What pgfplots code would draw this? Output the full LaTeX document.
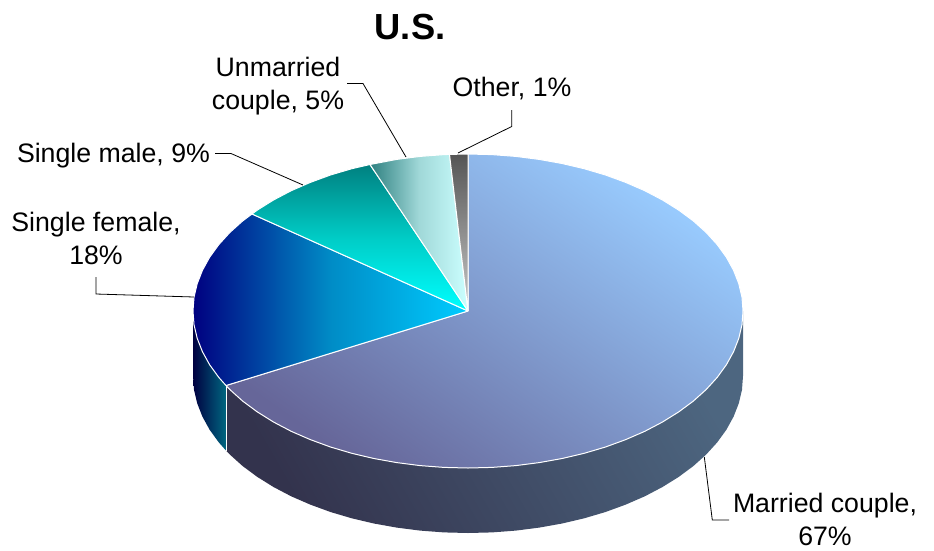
\documentclass[border=0pt]{standalone}
\usepackage{pgfplots}
\pgfplotsset{compat=1.18}
\usepackage{fontspec}
\setmainfont{Liberation Sans}
\definecolor{mTop}{HTML}{99CCFF}
\definecolor{mBot}{HTML}{666699}
\definecolor{mSideL}{HTML}{33334D}
\definecolor{mSideR}{HTML}{4D6680}
\definecolor{fL}{HTML}{000080}
\definecolor{fM}{HTML}{008CC6}
\definecolor{fR}{HTML}{00CCFF}
\definecolor{fSideL}{HTML}{000040}
\definecolor{fSideR}{HTML}{006680}
\definecolor{sTop}{HTML}{008080}
\definecolor{sMid}{HTML}{00CCC6}
\definecolor{sBot}{HTML}{00FFFF}
\definecolor{uL}{HTML}{2E8080}
\definecolor{uM}{HTML}{A0D8D8}
\definecolor{uR}{HTML}{CCFFFF}
\definecolor{oTop}{HTML}{555555}
\definecolor{oBot}{HTML}{C8C8C8}
\tikzset{lab/.style={inner sep=0pt,outer sep=0pt,font=\fontsize{26.7}{33.5}\selectfont,align=center}}
\begin{document}
\begin{tikzpicture}
\path[use as bounding box] (0,0) rectangle (934pt,550pt);
\begin{axis}[
  at={(0,0)},anchor=south west,
  scale only axis,width=934pt,height=550pt,
  hide axis,xmin=0,xmax=934,ymin=0,ymax=550,y dir=reverse,
  clip=false
]
% sides
\addplot[mark=none,draw=none,shade,top color=mSideR,bottom color=mSideL,shading angle=-60] coordinates {
(743,311)(743,376)(742,389.7)(738.8,403.3)(733.6,416.6)(726.4,429.7)(717.2,442.4)(706.2,454.5)(693.3,466.1)(678.7,476.9)(662.5,487)(644.8,496.3)(625.7,504.6)(605.5,512)(584.2,518.3)(562.1,523.5)(539.2,527.6)(515.8,530.6)(492,532.4)(468,533)(444,532.4)(420.2,530.6)(396.8,527.6)(373.9,523.5)(351.8,518.3)(330.5,512)(310.3,504.6)(291.2,496.3)(273.5,487)(257.3,476.9)(242.7,466.1)(229.8,454.5)(226,450.5)(226,385.5)(743,311)};
\addplot[mark=none,draw=none,shade,left color=fSideL,right color=fSideR] coordinates {
(226,385.5)(226,450.5)(218.8,442.4)(209.6,429.7)(202.4,416.6)(197.2,403.3)(194,389.7)(193,376)(193,311)(226,385.5)};
\addplot[mark=none,white,line width=1pt] coordinates {(226,385.5)(226,450.5)};
% top: married couple, 67%
\addplot[mark=none,draw=white,line width=1pt,line join=round,shade,top color=mTop,bottom color=mBot,shading angle=-35] coordinates {
(468,311)(468,154)(492,154.6)(515.8,156.4)(539.2,159.4)(562.1,163.5)(584.2,168.7)(605.5,175)(625.7,182.4)(644.8,190.7)(662.5,200)(678.7,210.1)(693.3,220.9)(706.2,232.5)(717.2,244.6)(726.4,257.3)(733.6,270.4)(738.8,283.7)(742,297.3)(743,311)(742,324.7)(738.8,338.3)(733.6,351.6)(726.4,364.7)(717.2,377.4)(706.2,389.5)(693.3,401.1)(678.7,411.9)(662.5,422)(644.8,431.3)(625.7,439.6)(605.5,447)(584.2,453.3)(562.1,458.5)(539.2,462.6)(515.8,465.6)(492,467.4)(468,468)(444,467.4)(420.2,465.6)(396.8,462.6)(373.9,458.5)(351.8,453.3)(330.5,447)(310.3,439.6)(291.2,431.3)(273.5,422)(257.3,411.9)(242.7,401.1)(229.8,389.5)(226,385.5)(468,311)};
% single female, 18%
\addplot[mark=none,draw=white,line width=1pt,line join=round,shade,left color=fL,right color=fR,middle color=fM] coordinates {
(468,311)(226,385.5)(218.8,377.4)(209.6,364.7)(202.4,351.6)(197.2,338.3)(194,324.7)(193,311)(194,297.3)(197.2,283.7)(202.4,270.4)(209.6,257.3)(218.8,244.6)(229.8,232.5)(242.7,220.9)(252,214)(468,311)};
% single male, 9%
\addplot[mark=none,draw=white,line width=1pt,line join=round,shade,top color=sTop,bottom color=sBot,middle color=sMid] coordinates {
(468,311)(252,214)(257.3,210.1)(273.5,200)(291.2,190.7)(310.3,182.4)(330.5,175)(351.8,168.7)(370,164.5)(468,311)};
% unmarried couple, 5%
\addplot[mark=none,draw=white,line width=1pt,line join=round,shade,left color=uL,right color=uR,middle color=uM] coordinates {
(468,311)(370,164.5)(396.8,159.4)(420.2,156.4)(444,154.6)(449.5,154.4)(468,311)};
% other, 1%
\addplot[mark=none,draw=white,line width=1pt,line join=round,shade,top color=oTop,bottom color=oBot] coordinates {
(468,311)(449.5,154.4)(468,154)(468,311)};
% leaders
\addplot[mark=none,black,line width=0.8pt] coordinates {(96,277)(96,294)(194,297)};
\addplot[mark=none,black,line width=0.8pt] coordinates {(215,153.5)(231,153.5)(303,185)};
\addplot[mark=none,black,line width=0.8pt] coordinates {(347,83.5)(363,83.5)(406,157)};
\addplot[mark=none,black,line width=0.8pt] coordinates {(511.7,110)(511.7,126.5)(458,153)};
\addplot[mark=none,black,line width=0.8pt] coordinates {(704.3,457)(712.3,520)(729,520)};
% labels
\node[lab,anchor=base,font=\bfseries\fontsize{36.3}{40}\selectfont] at (axis cs:410,39.5) {U.S.};
\node[lab,anchor=base west] at (axis cs:17,162) {Single male, 9\%};
\node[lab,anchor=base] at (axis cs:512,96) {Other, 1\%};
\node[lab,anchor=center] at (axis cs:278,86) {Unmarried\\couple, 5\%};
\node[lab,anchor=center] at (axis cs:96,238.5) {Single female,\\18\%};
\node[lab,anchor=center] at (axis cs:825,519.5) {Married couple,\\67\%};
\end{axis}
\end{tikzpicture}
\end{document}
